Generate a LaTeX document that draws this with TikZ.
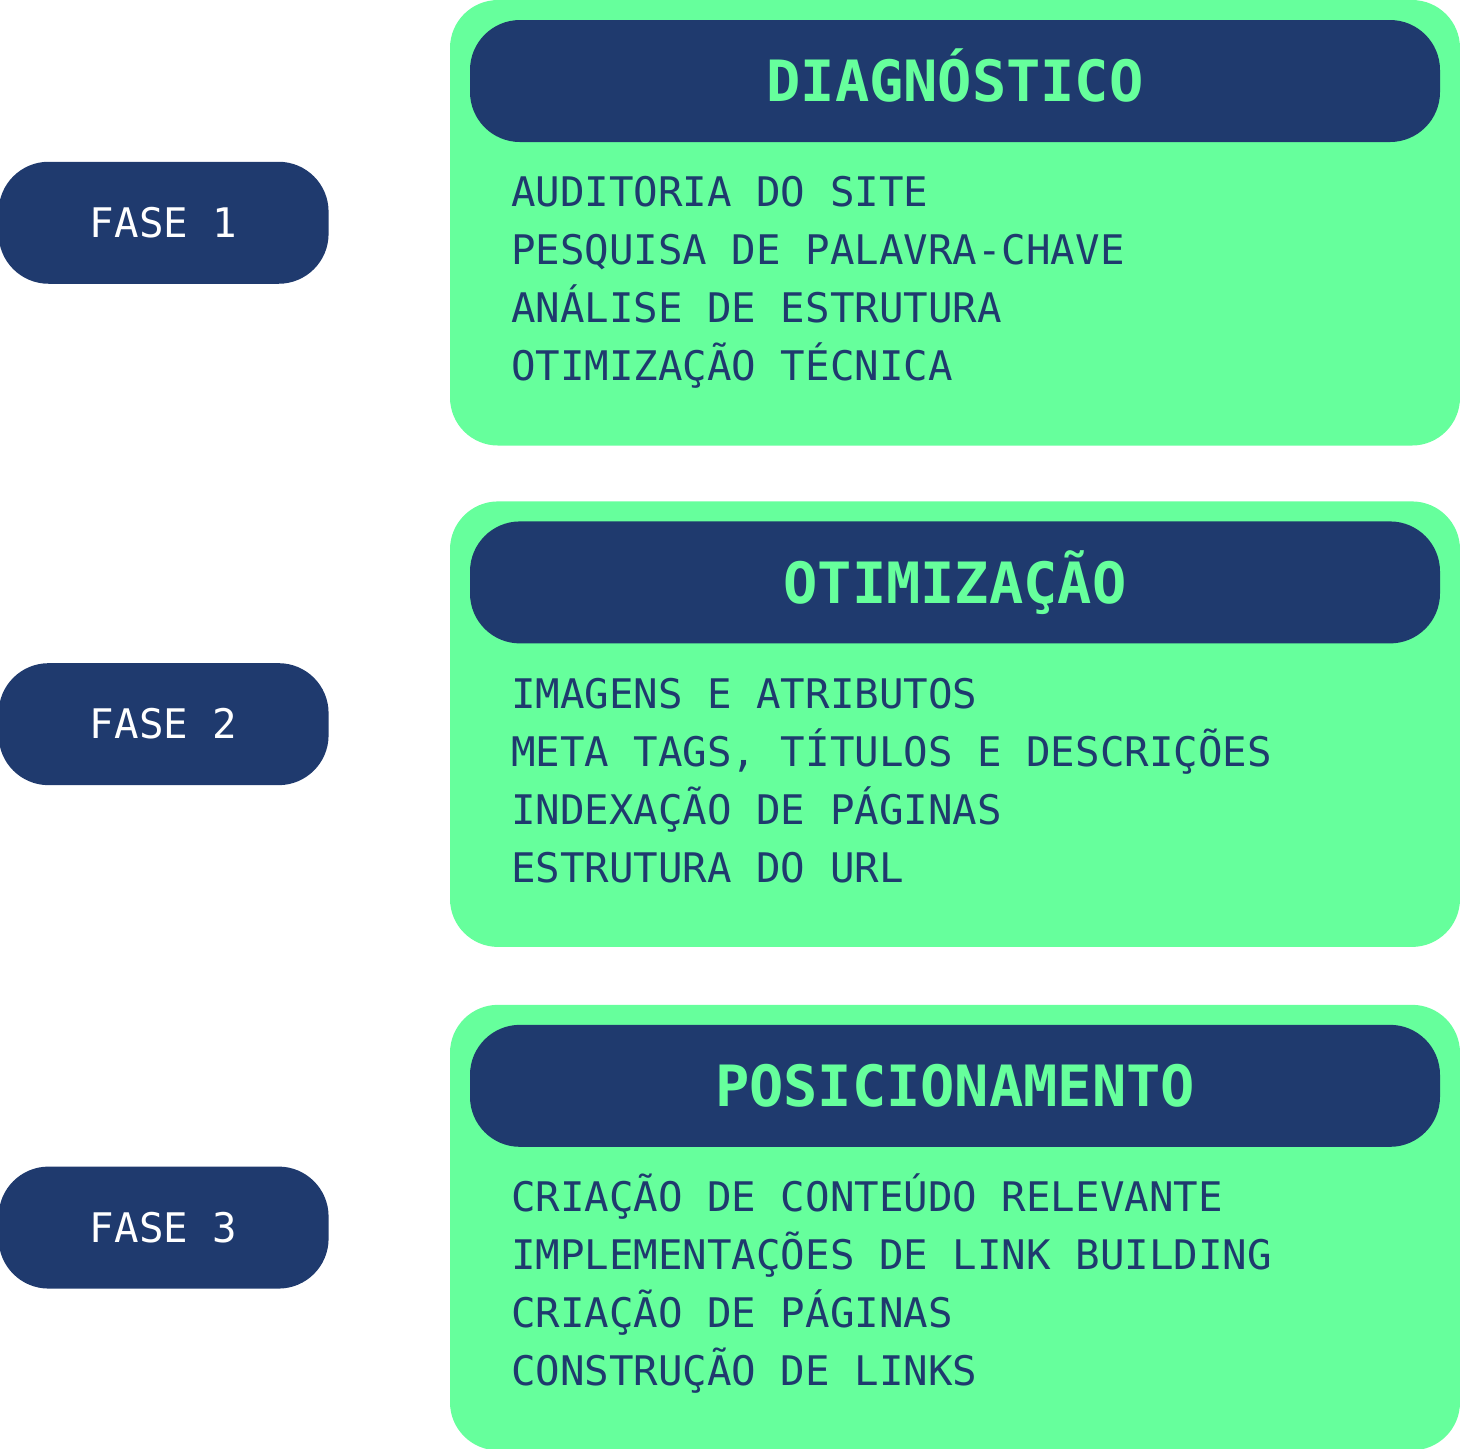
\documentclass[tikz,border=0pt]{standalone}
\usepackage{fontspec}
\setmonofont{DejaVu Sans Mono}
\usetikzlibrary{positioning}
\definecolor{navy}{HTML}{1F3A6E}
\definecolor{mint}{HTML}{66FF9C}
\tikzset{
  stage/.style={fill=mint, rounded corners=0.48cm, minimum width=10.1cm, minimum height=4.455cm, inner sep=0pt},
  head/.style={fill=navy, text=mint, rounded corners=0.5cm, minimum width=9.7cm, minimum height=1.22cm, inner sep=0pt, text height=11.8pt, text depth=0pt, font=\ttfamily\bfseries\fontsize{16.2}{20}\selectfont},
  phase/.style={fill=navy, text=white, rounded corners=0.5cm, minimum width=3.3cm, minimum height=1.22cm, inner sep=0pt, text height=8.4pt, text depth=0pt, font=\ttfamily\fontsize{11.6}{14}\selectfont},
  item/.style={anchor=base west, text=navy, inner sep=0pt, font=\ttfamily\fontsize{11.6}{14}\selectfont}
}
\begin{document}
\begin{tikzpicture}
  \useasboundingbox (0,0) rectangle (14.6,-14.48);

  \node (stage1) [stage] at (9.55,-2.2275) {};
  \node (stage2) [stage, below=0.545cm of stage1] {};
  \node (stage3) [stage, below=0.565cm of stage2] {};

  \node (fase1) [phase, left=1.2cm of stage1] {FASE 1};
  \node (fase2) [phase, left=1.2cm of stage2] {FASE 2};
  \node (fase3) [phase, left=1.2cm of stage3] {FASE 3};

  \node (head1) [head, below=0.2cm of stage1.north] {DIAGNÓSTICO};
  \node (head2) [head, below=0.2cm of stage2.north] {OTIMIZAÇÃO};
  \node (head3) [head, below=0.2cm of stage3.north] {POSICIONAMENTO};

  % diagnostico
  \node (d1) [item] at ([xshift=0.41cm,yshift=-0.64cm]head1.south west) {AUDITORIA DO SITE};
  \node (d2) [item] at ([yshift=-0.58cm]d1.base west) {PESQUISA DE PALAVRA-CHAVE};
  \node (d3) [item] at ([yshift=-0.58cm]d2.base west) {ANÁLISE DE ESTRUTURA};
  \node (d4) [item] at ([yshift=-0.58cm]d3.base west) {OTIMIZAÇÃO TÉCNICA};

  % otimizacao
  \node (o1) [item] at ([xshift=0.41cm,yshift=-0.64cm]head2.south west) {IMAGENS E ATRIBUTOS};
  \node (o2) [item] at ([yshift=-0.58cm]o1.base west) {META TAGS, TÍTULOS E DESCRIÇÕES};
  \node (o3) [item] at ([yshift=-0.58cm]o2.base west) {INDEXAÇÃO DE PÁGINAS};
  \node (o4) [item] at ([yshift=-0.58cm]o3.base west) {ESTRUTURA DO URL};

  % posicionamento
  \node (p1) [item] at ([xshift=0.41cm,yshift=-0.64cm]head3.south west) {CRIAÇÃO DE CONTEÚDO RELEVANTE};
  \node (p2) [item] at ([yshift=-0.58cm]p1.base west) {IMPLEMENTAÇÕES DE LINK BUILDING};
  \node (p3) [item] at ([yshift=-0.58cm]p2.base west) {CRIAÇÃO DE PÁGINAS};
  \node (p4) [item] at ([yshift=-0.58cm]p3.base west) {CONSTRUÇÃO DE LINKS};
\end{tikzpicture}
\end{document}
